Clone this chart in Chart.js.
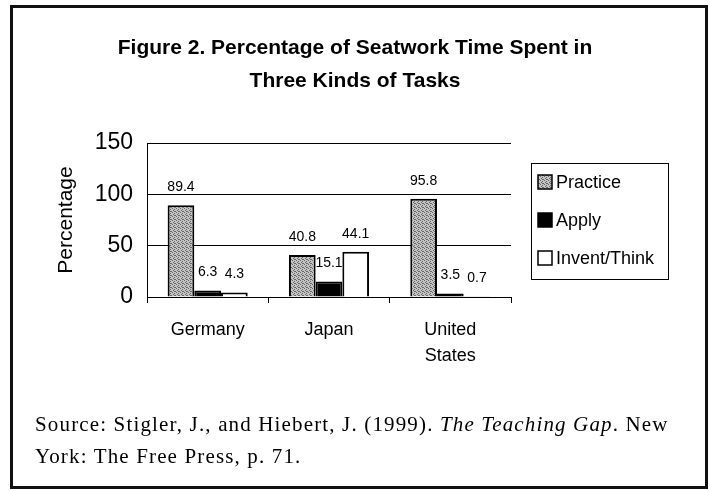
<!DOCTYPE html>
<html>
<head>
<meta charset="utf-8">
<script src="https://cdn.jsdelivr.net/npm/chart.js@4.4.1/dist/chart.umd.min.js"></script>
<style>
  body { margin: 0; background: #fff; }
  #wrap { position: relative; width: 710px; height: 491px; }
  #frame { position: absolute; left: 10px; top: 5px; width: 692px; height: 478px; border: 3px solid #111; }
  #chart { position: absolute; left: 0; top: 0; }
  #source {
    position: absolute; left: 35px; top: 408px;
    font-family: "Liberation Serif", "Times New Roman", serif;
    font-size: 21px; line-height: 32px; letter-spacing: 1.15px; color: #000;
  }
</style>
</head>
<body>
<div id="wrap">
  <div id="frame"></div>
  <canvas id="chart" width="710" height="491"></canvas>
  <div id="source">Source: Stigler, J., and Hiebert, J. (1999). <i>The Teaching Gap</i>. New<br>York: The Free Press, p. 71.</div>
</div>
<script>
const countries = ['Germany', 'Japan', ['United', 'States']];
const practice = [89.4, 40.8, 95.8];
const apply = [6.3, 15.1, 3.5];
const inventThink = [4.3, 44.1, 0.7];
const seriesNames = ['Practice', 'Apply', 'Invent/Think'];
const yTicks = [0, 50, 100, 150];
const titleLines = ['Figure 2. Percentage of Seatwork Time Spent in', 'Three Kinds of Tasks'];

const ctx = document.getElementById('chart').getContext('2d');
const FONT = '"Liberation Sans", Arial, sans-serif';

// grey stipple like the old scanned fill
function stipple() {
    const c = document.createElement('canvas');
    c.width = 4; c.height = 4;
    const g = c.getContext('2d');
    g.fillStyle = '#c4c4c4';
    g.fillRect(0, 0, 4, 4);
    g.fillStyle = '#666';
    [[0, 0], [2, 1], [1, 2], [3, 3], [2, 3]].forEach(([x, y]) => g.fillRect(x, y, 1, 1));
    return ctx.createPattern(c, 'repeat');
}
const practiceFill = stipple();

// title drawn by hand so it can be centred over the whole figure, not just the plot
const centredTitle = {
    id: 'centredTitle',
    afterDraw(chart) {
        const c = chart.ctx;
        c.save();
        c.font = 'bold 21px ' + FONT;
        c.fillStyle = '#000';
        c.textAlign = 'center';
        c.textBaseline = 'middle';
        titleLines.forEach((t, i) => c.fillText(t, 355, 48 + i * 33));
        c.restore();
    }
};

const valueLabels = {
    id: 'valueLabels',
    afterDatasetsDraw(chart) {
        const c = chart.ctx;
        c.save();
        c.font = '14px ' + FONT;
        c.fillStyle = '#000';
        c.textAlign = 'center';
        c.textBaseline = 'middle';
        chart.data.datasets.forEach((ds, i) => {
            chart.getDatasetMeta(i).data.forEach((bar, j) => {
                c.fillText(ds.data[j].toFixed(1), bar.x, bar.y - 18);
            });
        });
        c.restore();
    }
};

const boxLegend = {
    id: 'boxLegend',
    afterDraw(chart) {
        const c = chart.ctx;
        const x = 531, y = 163, w = 137, h = 116;
        c.save();
        c.strokeStyle = '#000';
        c.lineWidth = 1;
        c.strokeRect(x + 0.5, y + 0.5, w, h);
        c.font = '18px ' + FONT;
        c.textBaseline = 'middle';
        chart.data.datasets.forEach((ds, i) => {
            const cy = y + 19 + i * 38;
            c.fillStyle = ds.backgroundColor;
            c.fillRect(x + 7, cy - 7, 14, 14);
            c.lineWidth = 1.5;
            c.strokeRect(x + 7, cy - 7, 14, 14);
            c.fillStyle = '#000';
            c.fillText(ds.label, x + 25, cy + 1);
        });
        c.restore();
    }
};

new Chart(ctx, {
    type: 'bar',
    data: {
        labels: countries,
        datasets: [
            { label: seriesNames[0], data: practice, backgroundColor: practiceFill },
            { label: seriesNames[1], data: apply, backgroundColor: '#000' },
            { label: seriesNames[2], data: inventThink, backgroundColor: '#fff' }
        ]
    },
    options: {
        responsive: false,
        animation: false,
        datasets: {
            bar: {
                borderColor: '#000',
                borderWidth: 2,
                categoryPercentage: 0.66,
                barPercentage: 1.0
            }
        },
        layout: {
            padding: { left: 0, right: 199, top: 143, bottom: 114 }
        },
        plugins: {
            legend: { display: false },
            tooltip: { enabled: false },
            title: { display: false }
        },
        scales: {
            x: {
                afterFit(scale) { scale.height = 80; },
                grid: {
                    offset: true,
                    drawOnChartArea: false,
                    drawTicks: true,
                    tickLength: 6,
                    color: '#000'
                },
                border: { color: '#000', width: 1 },
                ticks: {
                    color: '#000',
                    padding: 14,
                    maxRotation: 0,
                    font: { family: FONT, size: 18, lineHeight: 1.45 }
                }
            },
            y: {
                min: 0,
                max: 150,
                afterFit(scale) { scale.width = 147; },
                afterBuildTicks(scale) { scale.ticks = yTicks.map(v => ({ value: v })); },
                grid: { color: '#000', lineWidth: 1, drawTicks: false },
                border: { color: '#000', width: 1 },
                ticks: {
                    color: '#000',
                    padding: 14,
                    font: { family: FONT, size: 23 }
                },
                title: {
                    display: true,
                    text: 'Percentage',
                    color: '#000',
                    font: { family: FONT, size: 21 },
                    padding: { top: 54, bottom: 0 }
                }
            }
        }
    },
    plugins: [centredTitle, valueLabels, boxLegend]
});
</script>
</body>
</html>
